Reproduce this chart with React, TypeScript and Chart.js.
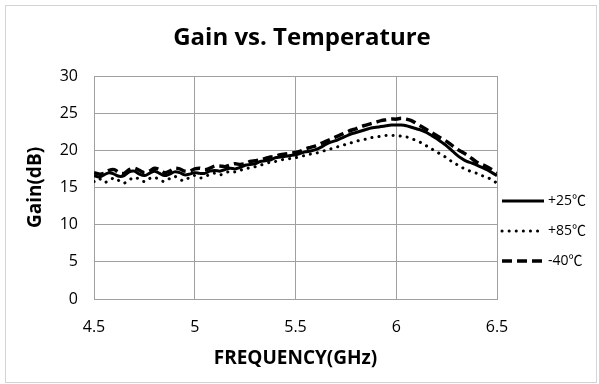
import React, { useEffect, useRef } from "react";
import { Chart, registerables } from "chart.js";

Chart.register(...registerables);

const FREQ = [
  4.5, 4.525, 4.55, 4.575, 4.6, 4.625, 4.65, 4.675, 4.7, 4.725,
  4.75, 4.775, 4.8, 4.825, 4.85, 4.875, 4.9, 4.925, 4.95, 4.975,
  5.0, 5.025, 5.05, 5.075, 5.1, 5.125, 5.15, 5.175, 5.2, 5.225,
  5.25, 5.275, 5.3, 5.325, 5.35, 5.375, 5.4, 5.425, 5.45, 5.475,
  5.5, 5.525, 5.55, 5.575, 5.6, 5.625, 5.65, 5.675, 5.7, 5.725,
  5.75, 5.775, 5.8, 5.825, 5.85, 5.875, 5.9, 5.925, 5.95, 5.975,
  6.0, 6.025, 6.05, 6.075, 6.1, 6.125, 6.15, 6.175, 6.2, 6.225,
  6.25, 6.275, 6.3, 6.325, 6.35, 6.375, 6.4, 6.425, 6.45, 6.475,
  6.5,
];

const GAIN_P25 = [
  16.6, 16.4, 16.7, 17.0, 16.8, 16.5, 16.6, 17.1, 17.2, 16.8,
  16.6, 16.9, 17.2, 16.9, 16.6, 16.8, 17.1, 17.0, 16.7, 16.8,
  17.0, 16.9, 16.9, 17.2, 17.3, 17.2, 17.4, 17.6, 17.5, 17.7,
  18.0, 18.1, 18.2, 18.5, 18.6, 18.7, 19.0, 19.1, 19.2, 19.3,
  19.4, 19.6, 19.8, 19.9, 20.1, 20.4, 20.8, 21.1, 21.3, 21.6,
  21.9, 22.2, 22.4, 22.6, 22.8, 23.0, 23.1, 23.2, 23.3, 23.4,
  23.4, 23.4, 23.3, 23.1, 22.9, 22.7, 22.4, 22.0, 21.6, 21.1,
  20.6, 20.0, 19.4, 18.9, 18.5, 18.3, 18.0, 17.7, 17.4, 17.0,
  16.6,
];

const GAIN_P85 = [
  15.8, 16.2, 15.7, 15.9, 16.3, 15.9, 15.6, 16.0, 16.4, 16.1,
  15.8, 16.2, 16.4, 16.0, 15.8, 16.2, 16.5, 16.1, 15.9, 16.4,
  16.6, 16.3, 16.4, 16.8, 16.9, 16.7, 16.9, 17.2, 17.1, 17.3,
  17.6, 17.6, 17.8, 18.0, 18.2, 18.4, 18.5, 18.7, 18.8, 18.9,
  19.0, 19.2, 19.3, 19.5, 19.6, 19.8, 20.0, 20.2, 20.4, 20.6,
  20.8, 21.0, 21.2, 21.4, 21.5, 21.7, 21.8, 21.9, 22.0, 22.0,
  22.0, 21.9, 21.8, 21.6, 21.3, 21.0, 20.6, 20.2, 19.8, 19.4,
  19.0, 18.5, 18.1, 17.7, 17.4, 17.1, 16.9, 16.6, 16.4, 16.0,
  15.6,
];

const GAIN_M40 = [
  17.0, 16.8, 16.9, 17.3, 17.4, 17.0, 16.9, 17.4, 17.6, 17.3,
  17.0, 17.2, 17.6, 17.4, 17.0, 17.2, 17.6, 17.5, 17.2, 17.2,
  17.5, 17.6, 17.4, 17.6, 17.9, 17.9, 17.8, 18.0, 18.2, 18.1,
  18.2, 18.5, 18.6, 18.7, 18.9, 19.1, 19.2, 19.4, 19.5, 19.6,
  19.7, 19.9, 20.2, 20.4, 20.6, 20.9, 21.2, 21.5, 21.8, 22.1,
  22.4, 22.7, 22.9, 23.2, 23.4, 23.6, 23.8, 24.0, 24.1, 24.2,
  24.2, 24.3, 24.2, 24.0, 23.6, 23.2, 22.8, 22.4, 22.0, 21.6,
  21.2, 20.7, 20.2, 19.8, 19.4, 18.9, 18.4, 18.1, 17.8, 17.4,
  17.0,
];

const SERIES_LABELS = ["+25\u2103", "+85\u2103", "-40\u2103"];
const TITLE = "Gain vs. Temperature";
const X_TITLE = "FREQUENCY(GHz)";
const Y_TITLE = "Gain(dB)";

const FONT = "'Open Sans', 'Noto Sans CJK SC', sans-serif";

const toPoints = (ys: number[]) => FREQ.map((x, i) => ({ x, y: ys[i] }));

const frameTitleLegend = {
  id: "frameTitleLegend",
  beforeDraw(chart: any) {
    const ctx = chart.ctx;
    ctx.save();
    ctx.fillStyle = "#ffffff";
    ctx.fillRect(0, 0, chart.width, chart.height);
    ctx.strokeStyle = "#d4d4d4";
    ctx.lineWidth = 1;
    ctx.strokeRect(5.5, 5.5, 591, 377);
    ctx.restore();
  },
  afterDraw(chart: any) {
    const ctx = chart.ctx;
    const area = chart.chartArea;
    ctx.save();
    ctx.fillStyle = "#000000";
    ctx.font = `bold 24px ${FONT}`;
    ctx.textAlign = "center";
    ctx.textBaseline = "middle";
    ctx.fillText(TITLE, 302, 38);

    const ys = [201, 231, 261];
    chart.data.datasets.forEach((ds: any, i: number) => {
      const y = ys[i];
      const x0 = area.right + 5;
      ctx.beginPath();
      ctx.strokeStyle = ds.borderColor;
      ctx.lineWidth = ds.borderWidth;
      ctx.lineCap = ds.borderCapStyle || "butt";
      ctx.setLineDash(ds.borderDash || []);
      ctx.moveTo(x0, y);
      ctx.lineTo(x0 + 42, y);
      ctx.stroke();
      ctx.setLineDash([]);
      ctx.fillStyle = "#000000";
      ctx.font = `14px ${FONT}`;
      ctx.textAlign = "left";
      ctx.textBaseline = "middle";
      ctx.fillText(ds.label, x0 + 46, y);
    });
    ctx.restore();
  },
};

export default function App() {
  const canvasRef = useRef<HTMLCanvasElement | null>(null);

  useEffect(() => {
    if (!canvasRef.current) return;
    const chart = new Chart(canvasRef.current, {
      type: "line",
      data: {
        datasets: [
          {
            label: SERIES_LABELS[0],
            data: toPoints(GAIN_P25),
            borderColor: "#000000",
            borderWidth: 3,
            borderDash: [],
            pointRadius: 0,
            tension: 0.3,
            fill: false,
          },
          {
            label: SERIES_LABELS[1],
            data: toPoints(GAIN_P85),
            borderColor: "#000000",
            borderWidth: 3,
            borderDash: [0.1, 7],
            borderCapStyle: "round",
            pointRadius: 0,
            tension: 0.3,
            fill: false,
          },
          {
            label: SERIES_LABELS[2],
            data: toPoints(GAIN_M40),
            borderColor: "#000000",
            borderWidth: 3.5,
            borderDash: [10, 5],
            pointRadius: 0,
            tension: 0.3,
            fill: false,
          },
        ],
      },
      options: {
        responsive: false,
        animation: false,
        events: [],
        layout: { padding: { left: 6, right: 102, top: 76, bottom: 2 } },
        plugins: {
          legend: { display: false },
          tooltip: { enabled: false },
          title: { display: false },
        },
        scales: {
          x: {
            type: "linear",
            min: 4.5,
            max: 6.5,
            afterFit: (s: any) => {
              s.height = 83;
            },
            ticks: {
              stepSize: 0.5,
              color: "#000000",
              padding: 19,
              font: { family: FONT, size: 16 },
              maxRotation: 0,
              callback: (v: any) => `${Number(v)}`,
            },
            grid: { color: "#a0a0a0", lineWidth: 1, drawTicks: false },
            border: { color: "#a0a0a0" },
            title: {
              display: true,
              text: X_TITLE,
              color: "#000000",
              font: { family: FONT, size: 19, weight: "bold", lineHeight: 1.2 },
              padding: { top: 0, bottom: 12 },
            },
          },
          y: {
            min: 0,
            max: 30,
            afterFit: (s: any) => {
              s.width = 88;
            },
            ticks: {
              stepSize: 5,
              color: "#000000",
              padding: 16,
              font: { family: FONT, size: 16 },
            },
            grid: { color: "#a0a0a0", lineWidth: 1, drawTicks: false },
            border: { color: "#a0a0a0" },
            title: {
              display: true,
              text: Y_TITLE,
              color: "#000000",
              font: { family: FONT, size: 19, weight: "bold", lineHeight: 1.2 },
              padding: { top: 18, bottom: 0 },
            },
          },
        },
      },
      plugins: [frameTitleLegend],
    } as any);
    return () => chart.destroy();
  }, []);

  return (
    <div style={{ position: "absolute", left: 0, top: 0, width: 599, height: 384 }}>
      <canvas
        ref={canvasRef}
        width={599}
        height={384}
        style={{ display: "block", width: 599, height: 384 }}
      />
    </div>
  );
}
